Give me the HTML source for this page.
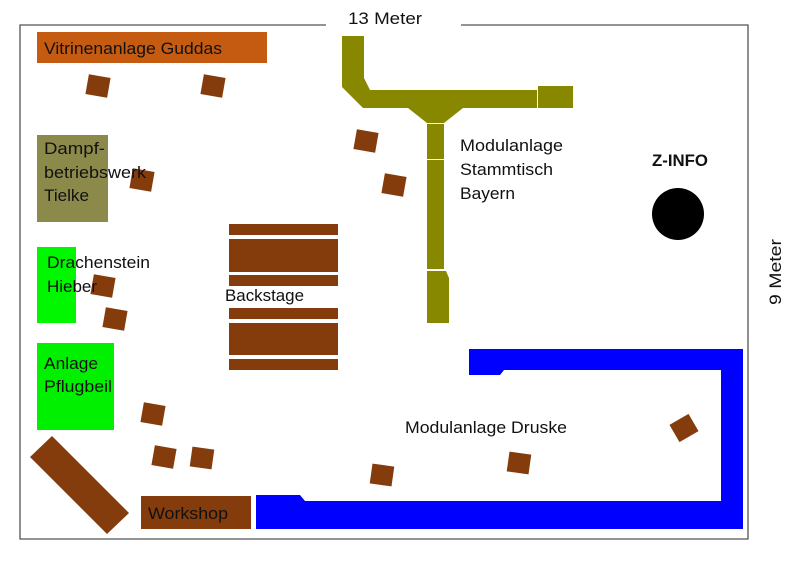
<!DOCTYPE html>
<html><head><meta charset="utf-8"><style>
html,body{margin:0;padding:0;background:#fff;}
svg{display:block;}
text{font-family:"Liberation Sans",sans-serif;font-size:17px;fill:#111;}
</style></head><body>
<svg width="800" height="566" viewBox="0 0 800 566" xmlns="http://www.w3.org/2000/svg">
<g stroke="#555" stroke-width="1.3" fill="none">
<polyline points="326,25 20,25 20,539 748,539 748,25 461,25"/>
</g>
<text x="348" y="24" textLength="74" lengthAdjust="spacingAndGlyphs">13 Meter</text>
<text transform="translate(781,305) rotate(-90)" textLength="66" lengthAdjust="spacingAndGlyphs">9 Meter</text>

<rect x="37" y="32" width="230" height="31" fill="#c55a11"/>
<rect x="37" y="135" width="71" height="87" fill="#8c8a4b"/>
<rect x="37" y="247" width="39" height="76" fill="#00f700"/>
<rect x="37" y="343" width="77" height="87" fill="#00f000"/>
<rect x="141" y="496" width="110" height="33" fill="#843c0c"/>
<polygon points="30,457 52,436 129,513 107,534" fill="#843c0c"/>

<g fill="#843c0c">
<rect x="229" y="224" width="109" height="11"/>
<rect x="229" y="239" width="109" height="33"/>
<rect x="229" y="275" width="109" height="11"/>
<rect x="229" y="308" width="109" height="11"/>
<rect x="229" y="323" width="109" height="32"/>
<rect x="229" y="359" width="109" height="11"/>
</g>

<g fill="#878700">
<polygon points="342,36 364,36 364,78 370,90 537,90 537,108 463,108 444,123 427,123 408,108 363,108 342,87"/>
<rect x="538" y="86" width="35" height="22"/>
<rect x="427" y="124" width="17" height="35"/>
<rect x="427" y="160" width="17" height="109"/>
<polygon points="427,271 446,271 449,278 449,323 427,323"/>
</g>

<g fill="#0000ff">
<polygon points="469,349 743,349 743,529 256,529 256,495 300,495 305,501 721,501 721,370 504,370 500,375 469,375"/>
</g>

<circle cx="678" cy="214" r="26" fill="#000"/>
<text x="652" y="166" style="font-weight:bold" textLength="56" lengthAdjust="spacingAndGlyphs">Z-INFO</text>

<g fill="#843c0c">
<rect x="-11" y="-10" width="22" height="20" transform="translate(98,86) rotate(10)"/>
<rect x="-11" y="-10" width="22" height="20" transform="translate(213,86) rotate(10)"/>
<rect x="-11" y="-10" width="22" height="20" transform="translate(142,180) rotate(10)"/>
<rect x="-11" y="-10" width="22" height="20" transform="translate(366,141) rotate(10)"/>
<rect x="-11" y="-10" width="22" height="20" transform="translate(394,185) rotate(10)"/>
<rect x="-11" y="-10" width="22" height="20" transform="translate(103,286) rotate(10)"/>
<rect x="-11" y="-10" width="22" height="20" transform="translate(115,319) rotate(10)"/>
<rect x="-11" y="-10" width="22" height="20" transform="translate(153,414) rotate(10)"/>
<rect x="-11" y="-10" width="22" height="20" transform="translate(164,457) rotate(10)"/>
<rect x="-11" y="-10" width="22" height="20" transform="translate(202,458) rotate(8)"/>
<rect x="-11" y="-10" width="22" height="20" transform="translate(382,475) rotate(8)"/>
<rect x="-11" y="-10" width="22" height="20" transform="translate(519,463) rotate(8)"/>
<rect x="-11" y="-10" width="22" height="20" transform="translate(684,428) rotate(-30)"/>
</g>

<text x="44" y="54" textLength="178" lengthAdjust="spacingAndGlyphs">Vitrinenanlage Guddas</text>
<text x="44" y="154" textLength="61" lengthAdjust="spacingAndGlyphs">Dampf-</text>
<text x="44" y="178" textLength="102" lengthAdjust="spacingAndGlyphs">betriebswerk</text>
<text x="44" y="201" textLength="45" lengthAdjust="spacingAndGlyphs">Tielke</text>
<text x="47" y="268" textLength="103" lengthAdjust="spacingAndGlyphs">Drachenstein</text>
<text x="47" y="292" textLength="50" lengthAdjust="spacingAndGlyphs">Hieber</text>
<text x="225" y="301" textLength="79" lengthAdjust="spacingAndGlyphs">Backstage</text>
<text x="44" y="369" textLength="54" lengthAdjust="spacingAndGlyphs">Anlage</text>
<text x="44" y="392" textLength="68" lengthAdjust="spacingAndGlyphs">Pflugbeil</text>
<text x="148" y="519" textLength="80" lengthAdjust="spacingAndGlyphs">Workshop</text>
<text x="460" y="151" textLength="103" lengthAdjust="spacingAndGlyphs">Modulanlage</text>
<text x="460" y="175" textLength="93" lengthAdjust="spacingAndGlyphs">Stammtisch</text>
<text x="460" y="199" textLength="55" lengthAdjust="spacingAndGlyphs">Bayern</text>
<text x="405" y="433" textLength="162" lengthAdjust="spacingAndGlyphs">Modulanlage Druske</text>
</svg>
</body></html>
